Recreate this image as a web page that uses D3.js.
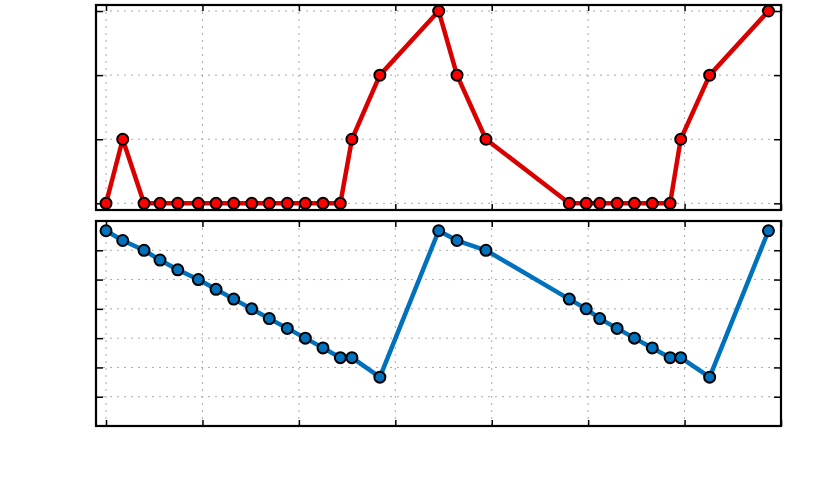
<!DOCTYPE html>
<html>
<head>
<meta charset="utf-8">
<script src="https://d3js.org/d3.v7.min.js"></script>
<style>
  body { margin: 0; background: #fff; }
  .grid line { stroke: #aaaaaa; stroke-width: 1; stroke-dasharray: 2,5; }
  .tick text { display: none; }
</style>
</head>
<body>
<script>
// x positions shared by both series
var xValues = [0, 1.73, 3.94, 5.6, 7.44, 9.57, 11.41, 13.24, 15.11, 16.93, 18.8, 20.67, 22.5, 24.3, 25.5,
               28.4, 34.5, 36.4, 39.4, 48.04, 49.8, 51.2, 53, 54.8, 56.65, 58.5, 59.6, 62.6, 68.7];
var topValues = [0, 1, 0, 0, 0, 0, 0, 0, 0, 0, 0, 0, 0, 0, 1,
                 2, 3, 2, 1, 0, 0, 0, 0, 0, 0, 0, 1, 2, 3];
var bottomValues = [17, 16, 15, 14, 13, 12, 11, 10, 9, 8, 7, 6, 5, 4, 4,
                    2, 17, 16, 15, 10, 9, 8, 7, 6, 5, 4, 4, 2, 17];
var xTicks = [0, 10, 20, 30, 40, 50, 60, 70];
var topTicks = [0, 1, 2, 3];
var bottomTicks = [0, 3, 6, 9, 12, 15];

var width = 814;
var height = 480;
var left = 96, right = 781;

var svg = d3.select("body").append("svg")
    .attr("width", width)
    .attr("height", height);

var x = d3.scaleLinear().domain([-1.04, 70]).range([left, right]);

function panel(top, bottom, yDomain, yTicks, values, lineColor, fillColor) {
    var y = d3.scaleLinear().domain(yDomain).range([bottom, top]);
    var g = svg.append("g");

    // dotted grid
    var grid = g.append("g").attr("class", "grid");
    grid.selectAll(".vx").data(xTicks).join("line")
        .attr("x1", d => x(d)).attr("x2", d => x(d))
        .attr("y1", top).attr("y2", bottom);
    grid.selectAll(".hy").data(yTicks).join("line")
        .attr("x1", left).attr("x2", right)
        .attr("y1", d => y(d)).attr("y2", d => y(d));

    // inward ticks on all four sides
    var none = () => "";
    g.append("g").attr("transform", "translate(0," + bottom + ")")
        .call(d3.axisBottom(x).tickValues(xTicks).tickSize(-6).tickFormat(none));
    g.append("g").attr("transform", "translate(0," + top + ")")
        .call(d3.axisTop(x).tickValues(xTicks).tickSize(-6).tickFormat(none));
    g.append("g").attr("transform", "translate(" + left + ",0)")
        .call(d3.axisLeft(y).tickValues(yTicks).tickSize(-7).tickFormat(none));
    g.append("g").attr("transform", "translate(" + right + ",0)")
        .call(d3.axisRight(y).tickValues(yTicks).tickSize(-7).tickFormat(none));
    g.selectAll(".domain").remove();
    g.selectAll(".tick line").attr("stroke", "#000").attr("stroke-width", 1.5);

    var pts = values.map((v, i) => [xValues[i], v]);
    var line = d3.line().x(d => x(d[0])).y(d => y(d[1]));
    g.append("path")
        .datum(pts)
        .attr("fill", "none")
        .attr("stroke", lineColor)
        .attr("stroke-width", 4.5)
        .attr("stroke-linejoin", "round")
        .attr("d", line);
    g.selectAll("circle").data(pts).join("circle")
        .attr("cx", d => x(d[0]))
        .attr("cy", d => y(d[1]))
        .attr("r", 5.5)
        .attr("fill", fillColor)
        .attr("stroke", "#000")
        .attr("stroke-width", 2);

    g.append("rect")
        .attr("x", left).attr("y", top)
        .attr("width", right - left).attr("height", bottom - top)
        .attr("fill", "none")
        .attr("stroke", "#000")
        .attr("stroke-width", 2.2);
}

panel(5, 210, [-0.104, 3.094], topTicks, topValues, "#d90000", "#ff0000");
panel(221, 426, [-3, 18], bottomTicks, bottomValues, "#0072bd", "#0072bd");
</script>
</body>
</html>
